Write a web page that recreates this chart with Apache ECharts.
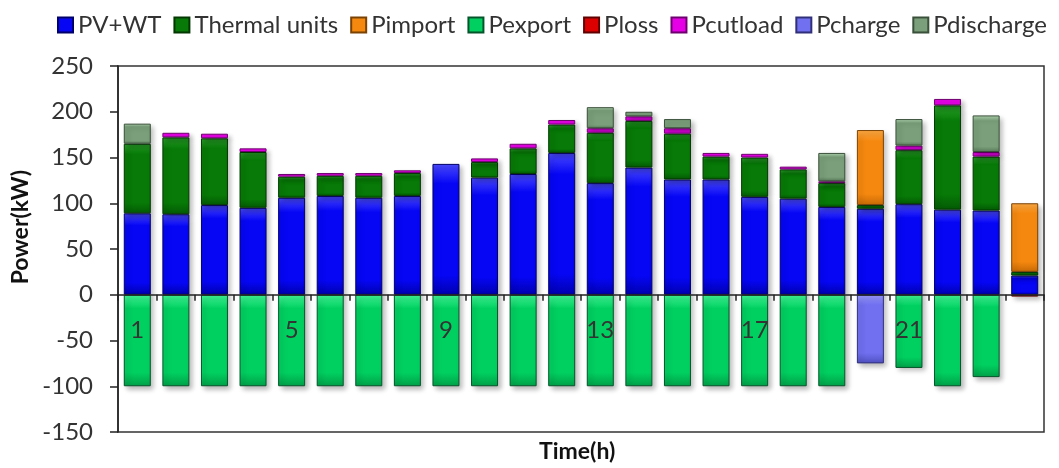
<!DOCTYPE html>
<html>
<head>
<meta charset="utf-8">
<script src="https://cdn.jsdelivr.net/npm/echarts@6/dist/echarts.min.js"></script>
<style>
html,body{margin:0;padding:0;background:#fff;}
#chart{width:1059px;height:468px;}
</style>
</head>
<body>
<div id="chart"></div>
<script>
var hours = ['1','2','3','4','5','6','7','8','9','10','11','12','13','14','15','16','17','18','19','20','21','22','23','24'];
var yTicks = [-150, -100, -50, 0, 50, 100, 150, 200, 250];

var pvwt      = [89, 88, 98, 95, 106, 108, 106, 108, 143, 128, 132, 155, 122, 139, 126, 126, 107, 105, 96, 94, 99, 93, 92, 21];
var thermal   = [76, 84, 73, 61, 23, 22, 24, 25, 0, 17, 28, 31, 55, 51, 50, 25, 43, 32, 26, 4, 59, 114, 59, 4];
var pimport   = [0, 0, 0, 0, 0, 0, 0, 0, 0, 0, 0, 0, 0, 0, 0, 0, 0, 0, 0, 82, 0, 0, 0, 75];
var pexport   = [-100, -100, -100, -100, -100, -100, -100, -100, -100, -100, -100, -100, -100, -100, -100, -100, -100, -100, -100, 0, -80, -100, -90, 0];
var ploss     = [0, 0, 0, 0, 0, 0, 0, 0, 0, 0, 0, 0, 0, 0, 0, 0, 0, 0, 0, 0, 0, 0, 0, -2];
var pcutload  = [0, 5, 5, 4, 3, 3, 3, 3, 0, 4, 5, 5, 5, 5, 6, 4, 4, 3, 2, 0, 5, 7, 5, 0];
var pcharge   = [0, 0, 0, 0, 0, 0, 0, 0, 0, 0, 0, 0, 0, 0, 0, 0, 0, 0, 0, -75, 0, 0, 0, 0];
var pdischarge= [22, 0, 0, 0, 0, 0, 0, 0, 0, 0, 0, 0, 23, 5, 10, 0, 0, 0, 31, 0, 29, 0, 40, 0];

var seriesDefs = [
  {name: 'PV+WT',         data: pvwt,       c: ['#4a4aff', '#0606f5', '#0000b0'], b: '#00006a'},
  {name: 'Thermal units', data: thermal,    c: ['#2aa52a', '#077a07', '#045a04'], b: '#033803'},
  {name: 'Pimport',       data: pimport,    c: ['#ffab45', '#f5880f', '#c86a06'], b: '#7a4203'},
  {name: 'Pexport',       data: pexport,    c: ['#40f595', '#00d060', '#00a048'], b: '#05552a'},
  {name: 'Ploss',         data: ploss,      c: ['#f03030', '#dd0000', '#a00000'], b: '#600000'},
  {name: 'Pcutload',      data: pcutload,   c: ['#ff50ff', '#e600e6', '#b000b0'], b: '#700070'},
  {name: 'Pcharge',       data: pcharge,    c: ['#9a9aff', '#7070f0', '#5050c0'], b: '#30307a'},
  {name: 'Pdischarge',    data: pdischarge, c: ['#b0d4b0', '#7a9f7a', '#5a7a5a'], b: '#3a503a'}
];

function grad(c) {
  return new echarts.graphic.LinearGradient(0, 0, 0, 1, [
    {offset: 0, color: c[0]},
    {offset: 0.15, color: c[1]},
    {offset: 0.85, color: c[1]},
    {offset: 1, color: c[2]}
  ]);
}

var series = seriesDefs.map(function (s) {
  return {
    name: s.name,
    type: 'bar',
    stack: 'p',
    barWidth: 27,
    data: s.data.map(function (v) { return v === 0 ? '-' : v; }),
    itemStyle: {
      color: grad(s.c),
      borderColor: s.b,
      borderWidth: 1,
      shadowColor: 'rgba(0,0,0,0.28)',
      shadowBlur: 5,
      shadowOffsetX: 3,
      shadowOffsetY: 3
    },
    emphasis: {disabled: true}
  };
});

var gridTop = 66, gridBottom = 36, H = 468;
var plotH = H - gridTop - gridBottom;
var zeroOffset = -plotH * (0 - yTicks[0]) / (yTicks[yTicks.length - 1] - yTicks[0]);

var chart = echarts.init(document.getElementById('chart'), null, {renderer: 'canvas'});
chart.setOption({
  animation: false,
  textStyle: {fontFamily: 'Lato'},
  legend: {
    left: 52,
    top: 8,
    itemWidth: 15,
    itemHeight: 15,
    itemGap: 12,
    icon: 'rect',
    textStyle: {fontFamily: 'Lato', fontSize: 24, color: '#333'},
    data: seriesDefs.map(function (s) { return s.name; })
  },
  grid: {
    left: 118, right: 15, top: gridTop, bottom: gridBottom,
    outerBoundsMode: 'none', containLabel: false,
    show: true, borderColor: '#333', borderWidth: 1.5, backgroundColor: 'transparent'
  },
  xAxis: {
    type: 'category',
    data: hours,
    position: 'bottom',
    offset: zeroOffset,
    z: 10,
    axisLine: {onZero: false, lineStyle: {color: '#222', width: 1.5}},
    axisTick: {show: true, interval: 0, length: 6, lineStyle: {color: '#222', width: 1.5}},
    axisLabel: {interval: 3, margin: 24, fontFamily: 'Lato', fontSize: 24, color: '#333'},
    splitLine: {show: false}
  },
  yAxis: {
    type: 'value',
    min: yTicks[0],
    max: yTicks[yTicks.length - 1],
    interval: 50,
    axisLine: {show: true, lineStyle: {color: '#222', width: 1.5}},
    axisTick: {show: true, length: 8, lineStyle: {color: '#222', width: 1.5}},
    axisLabel: {margin: 25, fontFamily: 'Lato', fontSize: 24, color: '#333'},
    splitLine: {show: false}
  },
  graphic: [
    {type: 'text', left: 9, top: 170, rotation: Math.PI / 2,
     style: {text: 'Power(kW)', font: 'bold 23px Lato', fill: '#111'}},
    {type: 'text', left: 539, top: 440,
     style: {text: 'Time(h)', font: 'bold 23px Lato', fill: '#111'}}
  ],
  series: series
});
</script>
</body>
</html>
